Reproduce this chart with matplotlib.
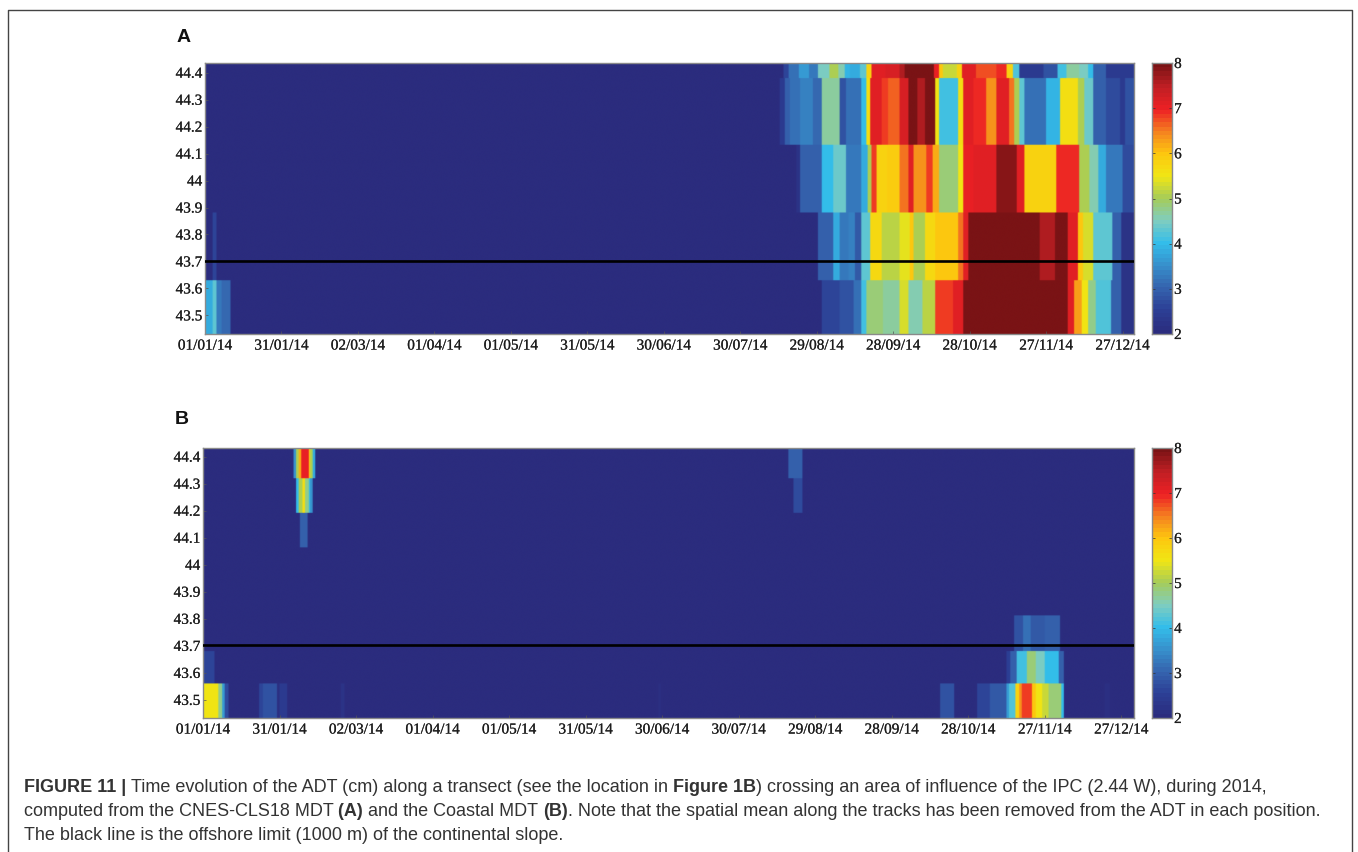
import matplotlib
matplotlib.use("Agg")
import matplotlib.pyplot as plt
import matplotlib.patheffects as pe
import numpy as np
from matplotlib.colors import LinearSegmentedColormap

W, H = 1358, 852

date_labels = ['01/01/14', '31/01/14', '02/03/14', '01/04/14', '01/05/14', '31/05/14', '30/06/14',
               '30/07/14', '29/08/14', '28/09/14', '28/10/14', '27/11/14', '27/12/14']
date_days = [0, 30, 60, 90, 120, 150, 180, 210, 240, 270, 300, 330, 360]
lat_ticks = [43.5, 43.6, 43.7, 43.8, 43.9, 44, 44.1, 44.2, 44.3, 44.4]
cbar_ticks = [2, 3, 4, 5, 6, 7, 8]

# panel A: latitude bands, top to bottom
a_lat_edges = [44.436, 44.382, 44.133, 43.881, 43.629, 43.431]
a_edges_0 = [0, 227, 229, 233, 237, 240.5, 245, 248.5, 251, 253, 257, 259.5, 261.5, 267, 272.5, 274.5, 286, 288,
             289.5, 295, 297, 302.5, 310.5, 314.5, 317, 319.5, 329, 334.5, 338, 343, 346.5, 348.5, 353.5, 364.5]
a_vals_0 = [2.0, 2.6, 3.2, 3.6, 3.3, 4.5, 5.0, 4.6, 3.9, 3.8, 4.3, 5.8, 7.1, 7.2, 7.6, 8, 7.0,
            6, 5.2, 5.8, 7.1, 6.7, 6.9, 5.8, 4.2, 2.4, 2.8, 4.1, 4.7, 4.5, 4, 3, 2.4]
a_edges_1 = [0, 225.5, 227.5, 229.5, 233.5, 238.5, 242, 249, 251.5, 257.5, 259.5, 261, 265.5, 268, 272.5, 276, 279.5,
             282.5, 286.5, 288, 295.5, 297.5, 301.5, 306.5, 310.5, 315.5, 317.5, 319.5, 321.5, 330, 335.5, 342.5,
             345, 348.5, 353.5, 359, 361, 364.5]
a_vals_1 = [2.0, 2.4, 3.0, 3.2, 3.4, 3.1, 4.7, 2.8, 3.2, 4.0, 5.6, 7.1, 6.8, 6.6, 7.2, 8, 7.6,
            8, 5.5, 4.1, 5.6, 7.1, 6.9, 6.4, 7.1, 6.5, 5, 4.3, 3.2, 3.9, 5.6, 5, 4.4, 3.0, 2.7, 2.4, 2.8]
a_edges_2 = [0, 232, 233.5, 242, 246.5, 251.5, 257.5, 260, 261.5, 263.5, 267.5, 272.5, 276, 278, 283, 285.5, 288,
             295.5, 297.5, 301.5, 310.5, 318.5, 321.5, 334, 343, 347, 350.5, 353.5, 360, 364.5]
a_vals_2 = [2.0, 2.2, 3.0, 4.0, 4.4, 3.3, 3.8, 5, 6.8, 5.8, 5.9, 6.5, 7.1, 6.4, 6.8, 6.2,
            4.9, 5.5, 7.0, 7.1, 7.9, 7.1, 5.8, 6.9, 5, 4.6, 3.8, 3.3, 2.7]
a_edges_3 = [0, 3, 4.3, 240.5, 246.5, 249, 252.5, 255, 257.5, 261, 265.5, 272.5, 276.5, 278, 282.5, 286.5, 295.5,
             297.5, 299.5, 327.5, 333.5, 338.5, 342.5, 344.5, 348.5, 356, 359.5, 364.5]
a_vals_3 = [2, 2.6, 2.0, 3.0, 3.8, 3.3, 3.4, 2.9, 4.3, 5.7, 5.1, 5.4, 6, 5, 5.7, 6, 6.5,
            7.1, 8, 7.6, 8, 7.1, 6, 5.3, 4.3, 3, 2.2]
a_edges_4 = [0, 3, 4.5, 6.5, 10, 242, 249, 254.5, 257.5, 259.5, 266, 272.5, 276, 281.5, 286.5, 293.5, 297.5, 338.5,
             341, 344, 346.5, 349.5, 355.5, 359.5, 364.5]
a_vals_4 = [3.8, 4.3, 3.3, 3.1, 2.0, 2.6, 2.8, 3.2, 4.1, 4.9, 4.7, 5.3, 4.6, 5.1, 6.8, 7.1,
            8, 7.1, 6.3, 5.5, 4.8, 4.2, 3, 2.2]

# panel B: latitude bands, top to bottom
b_lat_edges = [44.432, 44.321, 44.195, 44.066, 43.94, 43.814, 43.684, 43.563, 43.433]
b_edges_0 = [0, 35.5, 36.5, 37.5, 38.5, 41.5, 42, 43, 44, 229.5, 235, 365]
b_vals_0 = [2, 3.5, 5, 6.2, 7.0, 6, 5, 3.8, 2, 3.0, 2]
b_edges_1 = [0, 36.5, 37.5, 39, 40, 41.5, 42, 43, 231.5, 235, 365]
b_vals_1 = [2, 4, 5.0, 5.6, 4.8, 4, 3.5, 2, 2.7, 2]
b_edges_2 = [0, 38, 41, 365]
b_vals_2 = [2, 3.0, 2]
b_edges_3 = [0, 365]
b_vals_3 = [2]
b_edges_4 = [0, 365]
b_vals_4 = [2]
b_edges_5 = [0, 318, 321.5, 324.5, 330, 336, 365]
b_vals_5 = [2, 2.8, 3.2, 2.9, 3, 2]
b_edges_6 = [0, 4.7, 315, 316.5, 319, 323, 326.5, 330, 335.5, 337.5, 365]
b_vals_6 = [2.6, 2, 2.5, 3, 4.1, 4.9, 4.5, 4, 3, 2]
b_edges_7 = [0, 6, 7.7, 8.6, 10, 22, 23.5, 29, 30, 33, 54, 55.7, 178.5, 179.5, 289, 294.5, 303.5, 308.5, 315, 316,
             318.5, 320, 321, 325, 326.5, 329, 331.5, 336.5, 337.5, 353.5, 355.5, 365]
b_vals_7 = [5.5, 4.8, 3.6, 2.7, 2, 2.6, 2.8, 2.1, 2.4, 2, 2.2, 2, 2.12, 2, 2.8, 2, 2.6, 2.9, 3.6,
            4.2, 5.8, 6.4, 6.8, 6, 5.5, 5.2, 4.9, 4, 2, 2.1, 2]

jet_print = LinearSegmentedColormap.from_list('jet_print', [
    (0.000, '#2b2c7e'), (0.083, '#2c3f95'), (0.167, '#3564ae'), (0.250, '#3790cc'), (0.333, '#33bdea'),
    (0.417, '#7fcdc0'), (0.500, '#a5cc5a'), (0.583, '#f0e614'), (0.667, '#fdc70f'), (0.750, '#f58220'),
    (0.833, '#ed2024'), (0.917, '#c01f24'), (1.000, '#7a1315')], N=64)

tick_font = dict(family='Liberation Serif', fontsize=11, color='#1c1c1c')
soft = [pe.withStroke(linewidth=0.15, foreground='#444444')]


def px_axes(fig, x0, y0, x1, y1):
    # x/y in image pixels, y going down
    return fig.add_axes([x0 / W, 1 - y1 / H, (x1 - x0) / W, (y1 - y0) / H])


def fine_grid(lat_edges, edges, vals, xmax):
    # sample the bands on a grid about one pixel wide, so imshow can soften the edges like the scan
    days = np.arange(0.25, xmax, 0.5)
    lats = np.arange(lat_edges[0], lat_edges[-1], -0.004)
    grid = np.full((len(lats), len(days)), 2.0)
    for i in range(len(vals)):
        in_band = (lats <= lat_edges[i]) & (lats > lat_edges[i + 1])
        idx = np.searchsorted(edges[i], days, side='right') - 1
        grid[in_band, :] = np.array(vals[i])[np.clip(idx, 0, len(vals[i]) - 1)]
    return grid


def draw_panel(fig, box, cbar_box, lat_edges, edges, vals, xmax, letter, letter_pos):
    ax = px_axes(fig, *box)
    ax.imshow(fine_grid(lat_edges, edges, vals, xmax), cmap=jet_print, vmin=2, vmax=8, aspect='auto',
              extent=[0, xmax, lat_edges[-1], lat_edges[0]], interpolation='gaussian', interpolation_stage='rgba')
    ax.axhline(43.703, color='black', lw=1.9, zorder=5)
    ax.set_xlim(0, xmax)
    ax.set_ylim(lat_edges[-1], lat_edges[0])
    ax.set_xticks(date_days)
    ax.set_xticklabels(date_labels, path_effects=soft, **tick_font)
    ax.set_yticks(lat_ticks)
    ax.set_yticklabels([str(v) for v in lat_ticks], path_effects=soft, **tick_font)
    ax.tick_params(axis='x', length=2, width=0.5, direction='in', color='#555555', pad=4)
    ax.tick_params(axis='y', length=2, width=0.5, direction='in', color='#555555', pad=2)
    for s in ax.spines.values():
        s.set_color('#8a8a8a')
        s.set_linewidth(1.0)

    cax = px_axes(fig, *cbar_box)
    grad = np.linspace(2, 8, 65).reshape(-1, 1)
    cax.pcolormesh([0, 1], grad[:, 0], (grad[:-1] + grad[1:]) / 2, cmap=jet_print, vmin=2, vmax=8)
    cax.set_xticks([])
    cax.yaxis.tick_right()
    cax.set_ylim(2, 8)
    cax.set_yticks(cbar_ticks)
    cax.set_yticklabels([str(v) for v in cbar_ticks], path_effects=soft, **tick_font)
    cax.tick_params(axis='y', length=2, width=0.5, direction='in', color='#333333', pad=1.5, left=True, right=True)
    for s in cax.spines.values():
        s.set_color('#8a8a8a')
        s.set_linewidth(1.0)

    fig.text(letter_pos[0] / W, 1 - letter_pos[1] / H, letter, family='Liberation Sans', fontweight='bold',
             fontsize=14, color='#111111', va='center')


def caption_line(fig, x, y, runs, size=13.0):
    # mixed regular / bold text on one line
    r = fig.canvas.get_renderer()
    for txt, bold in runs:
        t = fig.text(x / W, 1 - y / H, txt, family='Liberation Sans', fontsize=size, color='#333333',
                     fontweight='bold' if bold else 'normal', va='baseline')
        x += t.get_window_extent(r).width


fig = plt.figure(figsize=(W / 100, H / 100), dpi=100)

# page frame, open at the bottom of the crop
fig.add_artist(plt.Line2D([8 / W, 8 / W, 1352 / W, 1352 / W], [0, 1 - 10 / H, 1 - 10 / H, 0],
                          transform=fig.transFigure, color='#444444', lw=1.0))

draw_panel(fig, (205, 63, 1134, 334), (1152, 63, 1172, 334), a_lat_edges,
           [a_edges_0, a_edges_1, a_edges_2, a_edges_3, a_edges_4],
           [a_vals_0, a_vals_1, a_vals_2, a_vals_3, a_vals_4], 364.5, 'A', (177, 37))
draw_panel(fig, (203, 448, 1134, 718), (1152, 448, 1172, 718), b_lat_edges,
           [b_edges_0, b_edges_1, b_edges_2, b_edges_3, b_edges_4, b_edges_5, b_edges_6, b_edges_7],
           [b_vals_0, b_vals_1, b_vals_2, b_vals_3, b_vals_4, b_vals_5, b_vals_6, b_vals_7], 365, 'B', (175, 420))

caption_line(fig, 24, 792, [('FIGURE 11 | ', True),
                            ('Time evolution of the ADT (cm) along a transect (see the location in ', False),
                            ('Figure 1B', True),
                            (') crossing an area of influence of the IPC (2.44 W), during 2014,', False)])
caption_line(fig, 24, 816, [('computed from the CNES-CLS18 MDT ', False), ('(A) ', True), ('and the Coastal MDT ', False),
                            ('(B)', True),
                            ('. Note that the spatial mean along the tracks has been removed from the ADT in each position.', False)])
caption_line(fig, 24, 840, [('The black line is the offshore limit (1000 m) of the continental slope.', False)])

fig.savefig('out.png', dpi=100)
